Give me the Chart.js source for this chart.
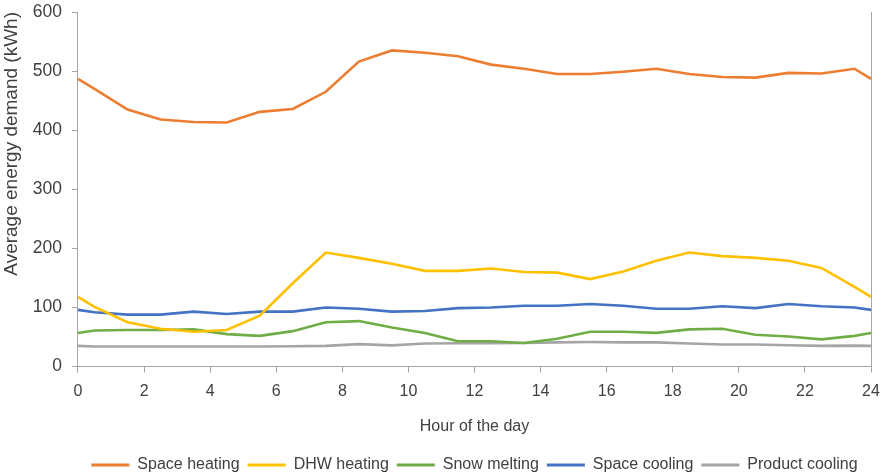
<!DOCTYPE html>
<html>
<head>
<meta charset="utf-8">
<script src="https://cdn.jsdelivr.net/npm/chart.js@4/dist/chart.umd.min.js"></script>
<style>
  html, body { margin: 0; padding: 0; background: #ffffff; }
  #wrap { width: 883px; height: 476px; position: relative; }
</style>
</head>
<body>
<div id="wrap"><canvas id="chart"></canvas></div>
<script>
// Hour of the day at which each average is plotted
const hours = [0, 0.5, 1.5, 2.5, 3.5, 4.5, 5.5, 6.5, 7.5, 8.5, 9.5, 10.5, 11.5,
  12.5, 13.5, 14.5, 15.5, 16.5, 17.5, 18.5, 19.5, 20.5, 21.5, 22.5, 23.5, 24];

// Average energy demand (kWh) per end use
const spaceHeating = [487, 470, 435, 418, 414, 413, 431, 436, 465, 516, 535, 531, 525,
  511, 504, 495, 495, 499, 504, 495, 490, 489, 497, 496, 504, 487];
const dhwHeating = [118, 101, 75, 64, 59, 62, 86, 141, 193, 184, 174, 162, 162,
  166, 160, 159, 148, 161, 179, 193, 187, 184, 179, 167, 135, 118];
const snowMelting = [57, 61, 62, 62, 63, 55, 52, 60, 75, 77, 66, 57, 43,
  43, 40, 47, 59, 59, 57, 63, 64, 54, 51, 46, 52, 57];
const spaceCooling = [96, 92, 88, 88, 93, 89, 93, 93, 100, 98, 93, 94, 99,
  100, 103, 103, 106, 103, 98, 98, 102, 99, 106, 102, 100, 96];
const productCooling = [35, 34, 34, 34, 34, 34, 34, 34.5, 35, 38, 36, 39, 39.5,
  39.5, 40, 41, 41.5, 41, 41, 39, 37.5, 37.5, 36, 35, 35.5, 35];

const seriesNames = ['Space heating', 'DHW heating', 'Snow melting', 'Space cooling', 'Product cooling'];
const seriesValues = [spaceHeating, dhwHeating, snowMelting, spaceCooling, productCooling];
const seriesColors = ['#ED7D31', '#FFC000', '#70AD47', '#4472C4', '#A5A5A5'];

const axisColor = '#A6A6A6';
const textColor = '#404040';
const fontFamily = '"Liberation Sans", Arial, sans-serif';
const xMax = 24;

const datasets = seriesNames.map((name, i) => ({
  label: name,
  data: hours.map((h, j) => ({ x: h, y: seriesValues[i][j] })),
  borderColor: seriesColors[i],
  backgroundColor: seriesColors[i],
  borderWidth: 2.6,
  pointRadius: 0,
  tension: 0,
  fill: false
}));

new Chart(document.getElementById('chart'), {
  type: 'line',
  data: { datasets },
  options: {
    responsive: true,
    maintainAspectRatio: false,
    animation: false,
    layout: { padding: { top: 0, right: 0, bottom: -7, left: 0 } },
    plugins: {
      tooltip: { enabled: false },
      legend: {
        position: 'bottom',
        fullSize: false,
        labels: {
          color: textColor,
          font: { family: fontFamily, size: 16 },
          boxWidth: 38,
          boxHeight: 3,
          padding: 8,
          generateLabels(chart) {
            return Chart.defaults.plugins.legend.labels.generateLabels(chart).map(l => {
              l.lineWidth = 0;
              return l;
            });
          }
        }
      }
    },
    scales: {
      x: {
        type: 'linear',
        min: 0,
        max: xMax,
        afterFit(scale) { scale.paddingRight = 12; },
        ticks: {
          stepSize: 2,
          color: textColor,
          font: { family: fontFamily, size: 16 },
          padding: 9,
          maxRotation: 0
        },
        grid: {
          drawOnChartArea: true,
          drawTicks: true,
          tickLength: 6,
          // only the closing line at the right edge of the plot is drawn
          color: ctx => (ctx.tick && ctx.tick.value === xMax) ? axisColor : 'rgba(0,0,0,0)',
          tickColor: axisColor
        },
        border: { display: true, color: axisColor, width: 1 },
        title: {
          display: true,
          text: 'Hour of the day',
          color: textColor,
          font: { family: fontFamily, size: 16 },
          padding: { top: 7, bottom: 13 }
        }
      },
      y: {
        min: 0,
        max: 600,
        afterFit(scale) { scale.paddingTop = 12; },
        ticks: {
          stepSize: 100,
          color: textColor,
          font: { family: fontFamily, size: 17.5, lineHeight: 1 },
          padding: 10
        },
        grid: { drawOnChartArea: false, drawTicks: true, tickLength: 6, color: axisColor },
        border: { display: true, color: axisColor, width: 1 },
        title: {
          display: true,
          text: 'Average energy demand (kWh)',
          align: 'end',
          color: textColor,
          font: { family: fontFamily, size: 19 },
          padding: { top: 0, bottom: 0 }
        }
      }
    }
  }
});
</script>
</body>
</html>
